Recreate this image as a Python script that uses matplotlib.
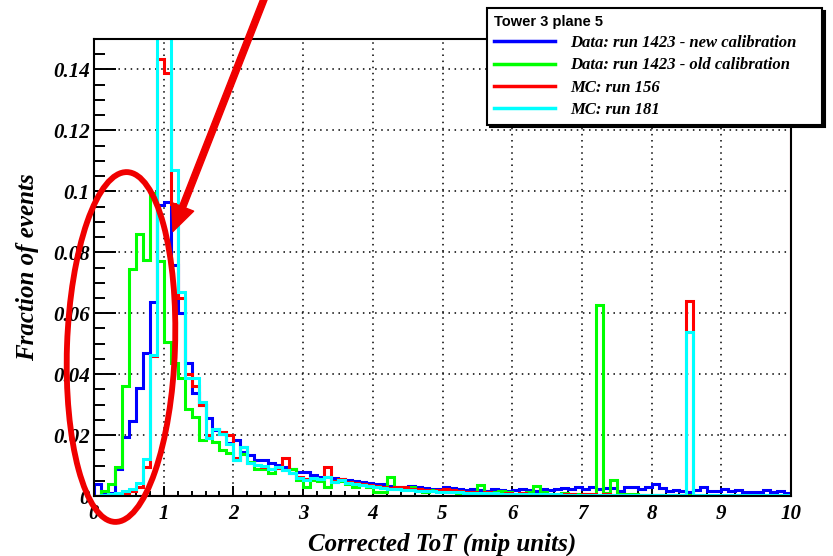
import numpy as np
import matplotlib
matplotlib.use("Agg")
import matplotlib.pyplot as plt
from matplotlib.lines import Line2D
from matplotlib.patches import Ellipse, FancyArrowPatch
from matplotlib.ticker import MultipleLocator

plt.rcParams['font.family'] = ['Liberation Serif', 'DejaVu Serif']

# 100 bins of 0.1 mip between 0 and 10
bin_edges = np.linspace(0.0, 10.0, 101)

# Data: run 1423 - new calibration
data_new = [
    0.0040, 0.0005, 0.0010, 0.0090, 0.0195, 0.0245, 0.0353, 0.0468, 0.0637, 0.0955,
    0.0965, 0.0757, 0.0600, 0.0435, 0.0337, 0.0300, 0.0255, 0.0216, 0.0205, 0.0173,
    0.0184, 0.0145, 0.0134, 0.0118, 0.0118, 0.0107, 0.0102, 0.0094, 0.0090, 0.0080,
    0.0080, 0.0069, 0.0064, 0.0061, 0.0058, 0.0055, 0.0052, 0.0050, 0.0047, 0.0044,
    0.0040, 0.0038, 0.0033, 0.0028, 0.0028, 0.0033, 0.0028, 0.0025, 0.0024, 0.0022,
    0.0030, 0.0025, 0.0022, 0.0020, 0.0024, 0.0020, 0.0018, 0.0022, 0.0020, 0.0018,
    0.0020, 0.0024, 0.0020, 0.0018, 0.0022, 0.0020, 0.0024, 0.0026, 0.0022, 0.0028,
    0.0024, 0.0028, 0.0022, 0.0025, 0.0026, 0.0018, 0.0030, 0.0028, 0.0024, 0.0030,
    0.0040, 0.0025, 0.0018, 0.0020, 0.0016, 0.0014, 0.0020, 0.0028, 0.0018, 0.0016,
    0.0022, 0.0018, 0.0020, 0.0014, 0.0014, 0.0014, 0.0020, 0.0014, 0.0018, 0.0010,
]

# Data: run 1423 - old calibration
data_old = [
    0.0000, 0.0015, 0.0040, 0.0096, 0.0360, 0.0746, 0.0860, 0.0776, 0.0996, 0.0770,
    0.0506, 0.0437, 0.0386, 0.0284, 0.0260, 0.0184, 0.0190, 0.0178, 0.0150, 0.0140,
    0.0118, 0.0138, 0.0110, 0.0087, 0.0087, 0.0074, 0.0092, 0.0085, 0.0090, 0.0052,
    0.0028, 0.0052, 0.0050, 0.0030, 0.0045, 0.0048, 0.0040, 0.0030, 0.0036, 0.0030,
    0.0012, 0.0012, 0.0063, 0.0022, 0.0020, 0.0030, 0.0018, 0.0012, 0.0020, 0.0015,
    0.0018, 0.0012, 0.0010, 0.0014, 0.0012, 0.0036, 0.0010, 0.0012, 0.0018, 0.0012,
    0.0008, 0.0010, 0.0012, 0.0033, 0.0014, 0.0008, 0.0006, 0.0010, 0.0008, 0.0006,
    0.0008, 0.0006, 0.0626, 0.0010, 0.0052, 0.0008, 0.0006, 0.0005, 0.0004, 0.0004,
    0.0004, 0.0004, 0.0003, 0.0003, 0.0004, 0.0003, 0.0000, 0.0000, 0.0000, 0.0000,
    0.0000, 0.0000, 0.0000, 0.0000, 0.0000, 0.0000, 0.0000, 0.0000, 0.0000, 0.0000,
]

# MC: run 156
mc_156 = [
    0.0000, 0.0000, 0.0002, 0.0005, 0.0010, 0.0015, 0.0030, 0.0096, 0.0460, 0.1435,
    0.1390, 0.0960, 0.0650, 0.0400, 0.0360, 0.0300, 0.0200, 0.0220, 0.0210, 0.0200,
    0.0125, 0.0160, 0.0107, 0.0102, 0.0095, 0.0090, 0.0092, 0.0124, 0.0076, 0.0062,
    0.0055, 0.0058, 0.0055, 0.0094, 0.0050, 0.0055, 0.0045, 0.0042, 0.0040, 0.0036,
    0.0032, 0.0030, 0.0026, 0.0030, 0.0030, 0.0024, 0.0022, 0.0020, 0.0018, 0.0020,
    0.0024, 0.0020, 0.0016, 0.0014, 0.0012, 0.0010, 0.0012, 0.0010, 0.0008, 0.0010,
    0.0008, 0.0010, 0.0006, 0.0008, 0.0006, 0.0005, 0.0006, 0.0008, 0.0005, 0.0004,
    0.0005, 0.0006, 0.0004, 0.0005, 0.0004, 0.0003, 0.0004, 0.0004, 0.0003, 0.0003,
    0.0003, 0.0003, 0.0002, 0.0003, 0.0002, 0.0640, 0.0000, 0.0000, 0.0000, 0.0000,
    0.0000, 0.0000, 0.0000, 0.0000, 0.0000, 0.0000, 0.0000, 0.0000, 0.0000, 0.0000,
]

# MC: run 181
mc_181 = [
    0.0000, 0.0003, 0.0006, 0.0010, 0.0015, 0.0024, 0.0044, 0.0120, 0.0464, 0.1900,
    0.1700, 0.1070, 0.0670, 0.0386, 0.0386, 0.0310, 0.0190, 0.0220, 0.0205, 0.0170,
    0.0118, 0.0160, 0.0107, 0.0102, 0.0098, 0.0090, 0.0094, 0.0085, 0.0074, 0.0060,
    0.0052, 0.0058, 0.0055, 0.0064, 0.0047, 0.0052, 0.0044, 0.0039, 0.0035, 0.0033,
    0.0030, 0.0026, 0.0024, 0.0022, 0.0020, 0.0020, 0.0018, 0.0016, 0.0015, 0.0014,
    0.0014, 0.0013, 0.0012, 0.0011, 0.0010, 0.0010, 0.0009, 0.0009, 0.0008, 0.0008,
    0.0007, 0.0007, 0.0006, 0.0006, 0.0005, 0.0005, 0.0005, 0.0004, 0.0004, 0.0004,
    0.0004, 0.0003, 0.0003, 0.0003, 0.0003, 0.0003, 0.0003, 0.0003, 0.0003, 0.0003,
    0.0003, 0.0003, 0.0003, 0.0003, 0.0003, 0.0539, 0.0003, 0.0003, 0.0003, 0.0003,
    0.0003, 0.0003, 0.0003, 0.0003, 0.0003, 0.0003, 0.0003, 0.0003, 0.0003, 0.0003,
]

series = [data_new, data_old, mc_156, mc_181]
labels = ["Data: run 1423 - new calibration",
          "Data: run 1423 - old calibration",
          "MC: run 156",
          "MC: run 181"]
colors = ["#0000ff", "#00ff00", "#ff0000", "#00ffff"]

x_ticks = list(range(0, 11))
y_ticks = [0.0, 0.02, 0.04, 0.06, 0.08, 0.10, 0.12, 0.14]
y_ticklabels = ["0", "0.02", "0.04", "0.06", "0.08", "0.1", "0.12", "0.14"]

fig = plt.figure(figsize=(8.33, 5.56), dpi=100)
ax = fig.add_axes([94 / 833, 60 / 556, 697 / 833, 457 / 556])

# red frame of the last drawn histogram (bottom edge and right edge)
ax.axhline(0, color="#ff0000", lw=2.2, zorder=1.5)
ax.axvline(10, color="#ff0000", lw=2.2, zorder=1.5)

for vals, c in zip(series, colors):
    ax.stairs(vals, bin_edges, color=c, lw=2.2, zorder=2)

ax.set_xlim(0, 10)
ax.set_ylim(0, 0.15)
ax.set_xticks(x_ticks)
ax.set_xticklabels([str(t) for t in x_ticks])
ax.set_yticks(y_ticks)
ax.set_yticklabels(y_ticklabels)
ax.xaxis.set_minor_locator(MultipleLocator(0.2))
ax.yaxis.set_minor_locator(MultipleLocator(0.005))

ax.grid(True, which="major", color="black", linestyle=(0, (1, 3)), lw=1.1)
ax.tick_params(axis="y", which="major", direction="in", length=16, width=1.4, pad=3)
ax.tick_params(axis="y", which="minor", direction="in", length=8, width=1.4)
ax.tick_params(axis="x", which="major", direction="in", length=7, width=1.4, pad=6)
ax.tick_params(axis="x", which="minor", direction="in", length=3.6, width=1.4)
for lbl in ax.get_xticklabels() + ax.get_yticklabels():
    lbl.set_fontsize(15)
    lbl.set_fontweight("bold")
    lbl.set_fontstyle("italic")
for sp in ax.spines.values():
    sp.set_linewidth(1.5)

ax.set_xlabel("Corrected ToT (mip units)", fontsize=18, fontweight="bold",
              fontstyle="italic", labelpad=6)
ax.set_ylabel("Fraction of events", fontsize=18, fontweight="bold",
              fontstyle="italic", labelpad=10)

handles = [Line2D([], [], color=c, lw=2.5) for c in colors]
leg = fig.legend(handles, labels, title="Tower 3 plane 5",
                 loc="upper left",
                 bbox_to_anchor=(487 / 833, 0.2, 335 / 833, 1 - 8 / 556 - 0.2),
                 bbox_transform=fig.transFigure, mode="expand",
                 frameon=True, fancybox=False, framealpha=1,
                 edgecolor="black", alignment="left",
                 shadow={"color": "black", "alpha": 1},
                 prop={"family": "Liberation Serif", "weight": "bold",
                       "style": "italic", "size": 12},
                 title_fontproperties={"family": "Liberation Sans",
                                       "weight": "bold", "size": 10.5},
                 handlelength=3.7, handletextpad=0.9, labelspacing=0.38,
                 borderpad=0.4, borderaxespad=0)
leg.get_frame().set_linewidth(1.5)
leg.set_zorder(10)

# hand-drawn highlight: ellipse around the low-ToT region and an arrow
px = fig.dpi_scale_trans
ell = Ellipse((1.21, 2.09), 1.08, 3.50, angle=-2, fill=False,
              ec="#f00000", lw=4.2, transform=px, zorder=20)
fig.add_artist(ell)
arrow = FancyArrowPatch((2.66, 5.62), (1.72, 3.22), transform=px,
                        arrowstyle="simple,head_length=1.9,head_width=1.7,tail_width=0.45",
                        mutation_scale=10, color="#f00000", zorder=20)
fig.add_artist(arrow)

fig.savefig("out.png", dpi=100)
